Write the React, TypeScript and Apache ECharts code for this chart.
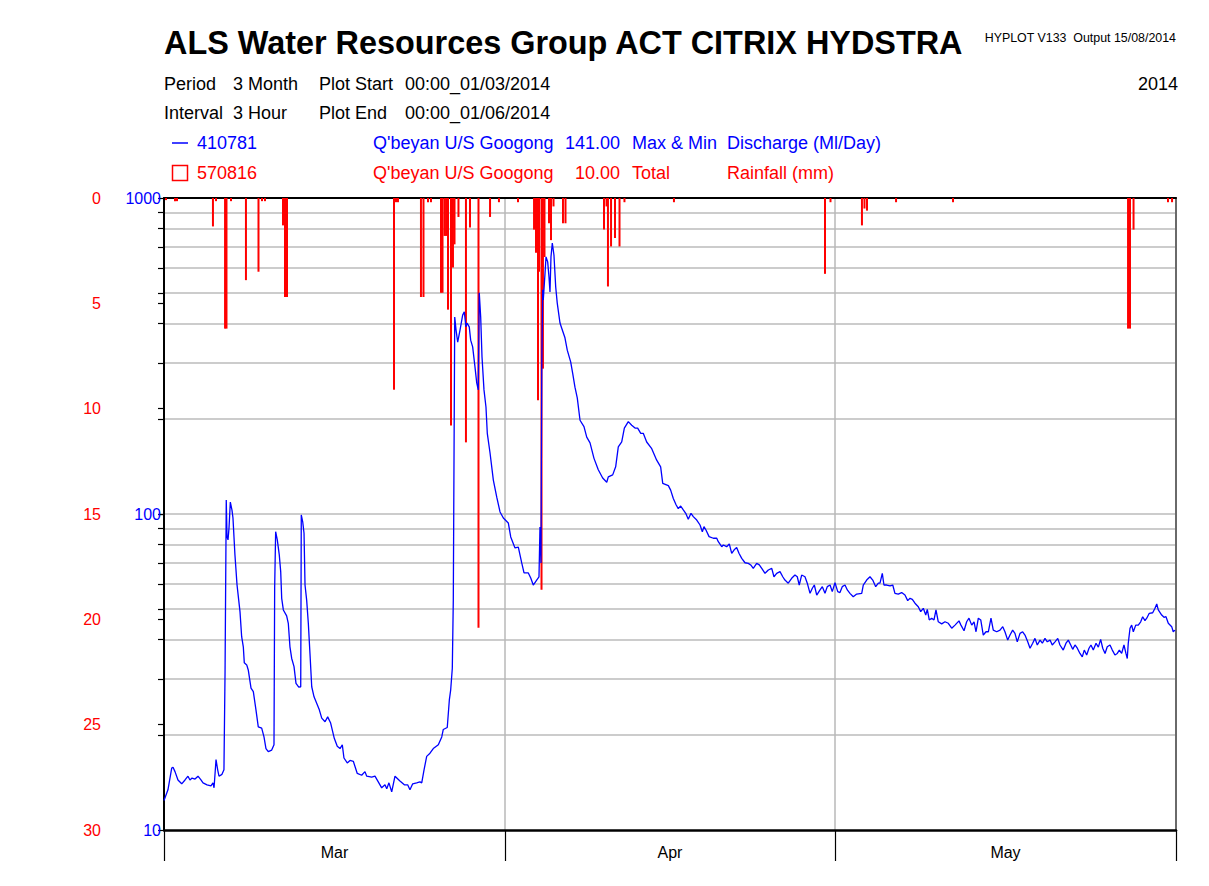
import React, { useEffect, useRef } from "react";
import * as echarts from "echarts";

const FONT = '"Liberation Sans", Arial, sans-serif';

const MONTHS = ["Mar", "Apr", "May"];
const MONTH_START_DAYS = [0, 31, 61, 92];
const RAIN_TICKS = [0, 5, 10, 15, 20, 25, 30];
const FLOW_LABELS = [10, 100, 1000];
const FLOW_GRID = [20, 30, 40, 50, 60, 70, 80, 90, 100, 200, 300, 400, 500, 600, 700, 800, 900];

// Discharge (Ml/Day), [day since 00:00 01/03/2014, value]
const DISCHARGE: [number, number][] = [
  [0, 12.4], [0.36, 13.4], [0.7, 15.7], [0.82, 15.8], [1.0, 15.3], [1.27, 14.4], [1.61, 14.0], [1.91, 14.4],
  [2.18, 14.8], [2.36, 14.4], [2.55, 14.6], [2.82, 14.5], [3.09, 14.8], [3.36, 14.4], [3.55, 14.1], [3.91, 13.9],
  [4.27, 13.8], [4.45, 14.1], [4.55, 13.6], [4.73, 16.7], [4.88, 15.5], [5.0, 14.8], [5.27, 15.0], [5.45, 15.5],
  [5.55, 31.6], [5.66, 110.7], [5.73, 84.6], [5.82, 82.8], [5.91, 90.3], [6.03, 109.1], [6.18, 102.9], [6.27, 97.1],
  [6.45, 74.2], [6.64, 59.6], [6.91, 49.0], [7.06, 40.9], [7.21, 38.0], [7.3, 33.8], [7.52, 33.3], [7.66, 32.1],
  [7.91, 28.1], [8.12, 27.4], [8.36, 24.0], [8.57, 21.2], [8.88, 21.0], [9.09, 19.7], [9.27, 18.1], [9.48, 17.7],
  [9.79, 17.9], [10.0, 18.6], [10.06, 58.2], [10.15, 87.9], [10.3, 82.8], [10.48, 74.2], [10.61, 65.7], [10.7, 54.1],
  [10.85, 49.7], [11.15, 47.6], [11.3, 45.1], [11.45, 38.0], [11.61, 34.9], [11.82, 32.9], [12.0, 29.1], [12.25, 28.3],
  [12.43, 28.4], [12.48, 99.3], [12.61, 94.5], [12.73, 86.9], [12.82, 59.6], [12.97, 53.4], [13.12, 45.1], [13.27, 36.2],
  [13.43, 28.4], [13.64, 26.4], [13.88, 25.2], [14.12, 24.0], [14.34, 22.6], [14.64, 22.0], [14.88, 22.8], [15.15, 21.8],
  [15.48, 19.5], [15.75, 18.4], [16.0, 18.1], [16.21, 18.6], [16.36, 16.9], [16.66, 16.3], [16.91, 16.6], [17.21, 16.5],
  [17.57, 15.1], [17.97, 14.9], [18.27, 15.3], [18.43, 14.8], [18.88, 14.7], [19.18, 14.8], [19.48, 14.2], [19.79, 13.6],
  [20.09, 13.9], [20.25, 13.5], [20.45, 14.1], [20.7, 13.2], [21.0, 14.8], [21.45, 14.3], [21.85, 13.9], [22.15, 13.9],
  [22.36, 13.4], [22.61, 14.0], [22.97, 14.1], [23.27, 14.2], [23.43, 14.1], [23.64, 15.5], [23.88, 17.1], [24.18, 17.5],
  [24.48, 18.1], [24.94, 18.6], [25.25, 19.7], [25.39, 20.8], [25.75, 21.1], [25.94, 25.8], [26.06, 27.7], [26.21, 32.5],
  [26.3, 53.4], [26.43, 420], [26.55, 382], [26.7, 350], [26.91, 382], [27.15, 426], [27.3, 436], [27.45, 391],
  [27.55, 402], [27.75, 391], [27.88, 355], [28.06, 338], [28.27, 292], [28.43, 260], [28.57, 247], [28.66, 501],
  [28.79, 420], [28.91, 314], [29.09, 247], [29.27, 218], [29.39, 180], [29.64, 156], [29.94, 128], [30.25, 113],
  [30.55, 101.5], [30.85, 97.1], [31.3, 93.7], [31.52, 84.6], [31.91, 78.1], [32.21, 78.6], [32.52, 70.0], [32.73, 65.1],
  [33.12, 65.1], [33.34, 62.7], [33.57, 59.6], [33.88, 61.8], [34.09, 63.2], [34.18, 90.9], [34.27, 70.0], [34.34, 290],
  [34.43, 512], [34.48, 476], [34.64, 579], [34.73, 651], [34.88, 628], [35.0, 562], [35.09, 504], [35.18, 651],
  [35.3, 720], [35.45, 660], [35.61, 523], [35.75, 465], [36.0, 402], [36.15, 388], [36.45, 361], [36.66, 330],
  [36.97, 303], [37.15, 279], [37.36, 252], [37.57, 233], [37.82, 198], [38.18, 189], [38.43, 175], [38.73, 168],
  [39.09, 150], [39.48, 138], [39.88, 130], [40.25, 126], [40.39, 131], [40.79, 133], [41.06, 141], [41.3, 163],
  [41.61, 169], [41.85, 187], [42.21, 196], [42.52, 191], [42.82, 187], [43.06, 187], [43.34, 180], [43.57, 180],
  [43.88, 169], [44.34, 161], [44.79, 148], [45.15, 141], [45.34, 125], [45.85, 123], [46.06, 119], [46.3, 112],
  [46.55, 107], [46.75, 104], [46.97, 106], [47.21, 103], [47.43, 100.5], [47.66, 96.2], [47.91, 100.5], [48.12, 98.1],
  [48.43, 95.7], [48.73, 92.3], [48.94, 87.9], [49.09, 91.2], [49.27, 89.0], [49.55, 84.8], [49.94, 83.8], [50.25, 83.8],
  [50.39, 81.7], [50.7, 78.8], [50.85, 79.8], [51.15, 78.8], [51.39, 80.4], [51.61, 75.1], [51.82, 76.9], [52.06, 78.4],
  [52.27, 75.1], [52.52, 72.4], [52.82, 70.1], [53.12, 69.8], [53.34, 69.0], [53.57, 67.3], [53.88, 69.8], [54.12, 69.0],
  [54.34, 67.3], [54.64, 64.9], [54.94, 66.5], [55.25, 67.3], [55.45, 63.3], [55.7, 64.9], [56.0, 65.7], [56.25, 63.3],
  [56.45, 61.8], [56.75, 60.4], [57.06, 62.6], [57.36, 64.1], [57.57, 63.3], [57.75, 59.6], [57.97, 64.1], [58.27, 63.3],
  [58.48, 60.4], [58.73, 56.1], [58.94, 58.2], [59.12, 59.6], [59.34, 55.4], [59.64, 57.5], [59.85, 58.9], [60.09, 56.1],
  [60.3, 58.9], [60.55, 59.6], [60.75, 56.8], [61.0, 60.6], [61.25, 56.8], [61.45, 56.4], [61.66, 58.9], [61.91, 59.6],
  [62.12, 57.5], [62.36, 56.1], [62.66, 54.7], [62.97, 55.8], [63.43, 56.1], [63.57, 59.6], [63.88, 61.8], [64.18, 63.3],
  [64.43, 61.8], [64.7, 58.9], [64.94, 60.4], [65.09, 60.4], [65.3, 64.9], [65.45, 59.6], [65.7, 59.6], [66.0, 59.2],
  [66.25, 59.6], [66.45, 56.1], [66.75, 55.8], [67.06, 56.4], [67.36, 55.4], [67.61, 53.2], [67.82, 54.1], [68.03, 53.7],
  [68.27, 52.2], [68.57, 50.9], [68.79, 49.1], [69.03, 50.3], [69.25, 47.9], [69.39, 49.9], [69.57, 46.2], [69.79, 46.8],
  [70.0, 46.2], [70.18, 49.7], [70.39, 45.6], [70.7, 44.9], [71.0, 45.6], [71.3, 45.1], [71.61, 43.5], [71.91, 44.5],
  [72.27, 45.9], [72.45, 44.5], [72.73, 42.7], [72.97, 45.6], [73.18, 46.8], [73.43, 44.5], [73.64, 45.6], [73.82, 42.4],
  [74.03, 46.8], [74.25, 46.2], [74.48, 41.4], [74.73, 42.4], [74.94, 42.4], [75.18, 46.8], [75.39, 42.9], [75.7, 42.4],
  [76.0, 42.9], [76.25, 44.0], [76.45, 42.4], [76.7, 39.9], [76.91, 41.4], [77.15, 42.9], [77.36, 41.9], [77.57, 39.4],
  [77.82, 41.9], [78.06, 42.4], [78.27, 41.4], [78.52, 39.4], [78.73, 37.6], [78.97, 39.0], [79.18, 40.4], [79.39, 38.5],
  [79.64, 39.9], [79.85, 39.0], [80.09, 40.4], [80.3, 39.4], [80.55, 39.9], [80.75, 38.5], [81.0, 39.4], [81.25, 40.4],
  [81.45, 38.5], [81.75, 37.1], [82.0, 39.0], [82.21, 39.9], [82.43, 38.5], [82.61, 37.3], [82.82, 38.5], [83.03, 37.6],
  [83.27, 36.2], [83.48, 35.3], [83.66, 37.1], [83.88, 35.8], [84.09, 37.6], [84.27, 38.5], [84.48, 37.1], [84.73, 39.0],
  [84.94, 37.9], [85.15, 40.1], [85.34, 37.6], [85.55, 36.2], [85.75, 38.0], [86.0, 38.5], [86.21, 37.1], [86.45, 35.8],
  [86.66, 36.2], [86.85, 37.1], [87.06, 36.2], [87.27, 38.5], [87.45, 36.2], [87.57, 34.9], [87.66, 39.0], [87.82, 43.5],
  [87.97, 44.5], [88.12, 42.4], [88.34, 44.5], [88.57, 44.5], [88.79, 45.6], [88.97, 47.3], [89.18, 46.0], [89.34, 46.8],
  [89.57, 48.5], [89.88, 48.7], [90.09, 50.3], [90.25, 51.9], [90.39, 49.7], [90.7, 47.9], [90.91, 47.1], [91.09, 47.3],
  [91.3, 45.1], [91.61, 44.0], [91.75, 42.4], [91.91, 42.9],
];

// Rainfall (mm) per 3-hour interval, [day since 00:00 01/03/2014, value]
const RAINFALL: [number, number][] = [
  [0.18, 0.1], [1.0, 0.15], [1.18, 0.15], [4.45, 1.35], [4.73, 0.15], [5.55, 6.2], [5.68, 6.2], [6.09, 0.15],
  [7.45, 3.9], [8.59, 3.5], [8.91, 0.15], [9.18, 0.15], [10.82, 1.3], [11.0, 4.7], [11.18, 4.7], [20.91, 9.1],
  [21.09, 0.2], [21.27, 0.2], [23.36, 4.7], [23.59, 4.7], [24.0, 0.2], [24.27, 0.2], [25.18, 4.5], [25.32, 4.5],
  [25.5, 1.8], [25.64, 1.8], [25.82, 5.3], [26.09, 10.8], [26.27, 3.3], [26.41, 2.2], [26.77, 0.9], [27.45, 11.6],
  [27.82, 1.4], [28.59, 20.4], [29.64, 0.9], [30.45, 0.2], [32.18, 0.2], [33.64, 1.5], [33.82, 2.6], [34.0, 9.6],
  [34.09, 3.5], [34.32, 18.6], [34.45, 8.1], [34.59, 2.8], [35.0, 1.2], [35.18, 2.0], [35.41, 0.4], [36.27, 1.2],
  [36.5, 1.2], [40.0, 1.5], [40.23, 0.4], [40.36, 4.2], [40.64, 2.3], [41.0, 1.9], [41.41, 2.3], [41.86, 0.2],
  [46.36, 0.2], [60.09, 3.6], [60.59, 0.2], [63.45, 1.3], [63.68, 0.5], [63.91, 0.6], [66.55, 0.2], [71.73, 0.2],
  [87.64, 6.2], [87.82, 6.2], [88.14, 1.5], [91.27, 0.2], [91.64, 0.2],
];

const TITLE = "ALS Water Resources Group ACT CITRIX HYDSTRA";
const PROGRAM_NOTE = "HYPLOT V133  Output 15/08/2014";
const YEAR = "2014";

const MONTH_MIDS = MONTHS.map((_, i) => (MONTH_START_DAYS[i] + MONTH_START_DAYS[i + 1]) / 2);

function txt(text: string, x: number, y: number, fill: string, opts: any = {}) {
  return {
    type: "text",
    x,
    y,
    silent: true,
    style: {
      text,
      fill,
      fontFamily: FONT,
      fontSize: opts.size || 18,
      fontWeight: opts.weight || "normal",
      align: opts.align || "left",
      verticalAlign: "middle",
    },
  };
}

export default function App() {
  const ref = useRef<HTMLDivElement>(null);

  useEffect(() => {
    if (!ref.current) return;
    const chart = echarts.init(ref.current, null, { renderer: "svg" });

    const graphic: any[] = [
      txt(TITLE, 164, 43, "#000", { size: 32.4, weight: "bold" }),
      txt(PROGRAM_NOTE, 1176, 38, "#000", { size: 12.4, align: "right" }),
      txt("Period", 164, 84, "#000"),
      txt("3 Month", 233, 84, "#000"),
      txt("Plot Start", 319, 84, "#000"),
      txt("00:00_01/03/2014", 405, 84, "#000"),
      txt(YEAR, 1178, 84, "#000", { align: "right" }),
      txt("Interval", 164, 113, "#000"),
      txt("3 Hour", 233, 113, "#000"),
      txt("Plot End", 319, 113, "#000"),
      txt("00:00_01/06/2014", 405, 113, "#000"),
      {
        type: "line",
        silent: true,
        shape: { x1: 172, y1: 143, x2: 188, y2: 143 },
        style: { stroke: "#0000ff", lineWidth: 1.5 },
      },
      txt("410781", 197, 143, "#0000ff"),
      txt("Q'beyan U/S Googong", 373, 143, "#0000ff"),
      txt("141.00", 620, 143, "#0000ff", { align: "right" }),
      txt("Max & Min", 632, 143, "#0000ff"),
      txt("Discharge (Ml/Day)", 727, 143, "#0000ff"),
      {
        type: "rect",
        silent: true,
        shape: { x: 172.5, y: 165.5, width: 15, height: 15 },
        style: { stroke: "#ff0000", fill: "none", lineWidth: 1.5 },
      },
      txt("570816", 197, 173, "#ff0000"),
      txt("Q'beyan U/S Googong", 373, 173, "#ff0000"),
      txt("10.00", 620, 173, "#ff0000", { align: "right" }),
      txt("Total", 632, 173, "#ff0000"),
      txt("Rainfall (mm)", 727, 173, "#ff0000"),
    ];

    const option: any = {
      animation: false,
      backgroundColor: "#ffffff",
      graphic,
      grid: { left: 164, top: 198, width: 1012, height: 632, containLabel: false },
      xAxis: [
        {
          type: "value",
          min: 0,
          max: 92,
          position: "bottom",
          axisLine: { show: true, onZero: false, lineStyle: { color: "#000", width: 2.5 } },
          axisTick: {
            show: true,
            customValues: MONTH_START_DAYS,
            length: 31,
            lineStyle: { color: "#000", width: 1.2 },
          },
          axisLabel: {
            show: true,
            customValues: MONTH_MIDS,
            formatter: (v: number) => MONTHS[MONTH_MIDS.indexOf(v)] || "",
            color: "#000",
            fontFamily: FONT,
            fontSize: 16,
            margin: 14,
          },
          splitLine: { show: true, lineStyle: { color: "#b8b8b8", width: 1.5 } },
        },
        {
          type: "value",
          min: 0,
          max: 92,
          position: "top",
          axisLine: { show: true, onZero: false, lineStyle: { color: "#000", width: 2 } },
          axisTick: { show: false },
          axisLabel: { show: false },
          splitLine: { show: false },
        },
      ],
      yAxis: [
        {
          type: "value",
          min: 0,
          max: 30,
          interval: 5,
          inverse: true,
          position: "left",
          axisLine: { show: false, onZero: false },
          axisTick: { show: true, customValues: RAIN_TICKS, length: 6, lineStyle: { color: "#000", width: 1.2 } },
          axisLabel: {
            color: "#ff0000",
            fontFamily: FONT,
            fontSize: 16,
            margin: 63,
          },
          splitLine: { show: false },
        },
        {
          type: "log",
          logBase: 10,
          min: 10,
          max: 1000,
          position: "left",
          axisLine: { show: true, onZero: false, lineStyle: { color: "#000", width: 2 } },
          axisTick: {
            show: true,
            customValues: FLOW_GRID,
            length: 6,
            lineStyle: { color: "#000", width: 1.2 },
          },
          axisLabel: {
            customValues: FLOW_LABELS,
            formatter: (v: number) => String(v),
            color: "#0000ff",
            fontFamily: FONT,
            fontSize: 16,
            margin: 3,
          },
          splitLine: { show: true, lineStyle: { color: "#cccccc", width: 2 } },
        },
        {
          type: "value",
          min: 0,
          max: 1,
          position: "right",
          axisLine: { show: true, onZero: false, lineStyle: { color: "#6a6a6a", width: 2 } },
          axisTick: { show: false },
          axisLabel: { show: false },
          splitLine: { show: false },
        },
      ],
      series: [
        {
          name: "Rainfall (mm)",
          type: "bar",
          xAxisIndex: 0,
          yAxisIndex: 0,
          data: RAINFALL,
          barWidth: 2,
          itemStyle: { color: "#ff0000" },
          z: 2,
        },
        {
          name: "Discharge (Ml/Day)",
          type: "line",
          xAxisIndex: 0,
          yAxisIndex: 1,
          data: DISCHARGE,
          showSymbol: false,
          symbol: "none",
          lineStyle: { color: "#0000ff", width: 1.3 },
          z: 3,
        },
      ],
    };

    chart.setOption(option);
    return () => chart.dispose();
  }, []);

  return (
    <div
      ref={ref}
      style={{ position: "absolute", left: 0, top: 0, width: 1209, height: 886, background: "#fff" }}
    />
  );
}
